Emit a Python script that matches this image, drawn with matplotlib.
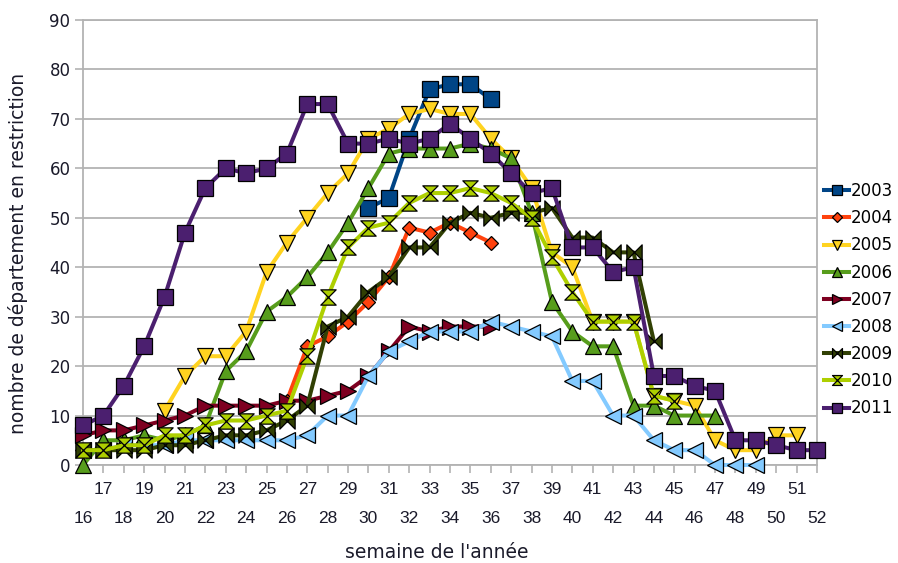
import matplotlib
matplotlib.use('Agg')
import matplotlib.pyplot as plt
from matplotlib.path import Path
import numpy as np

plt.rcParams['font.family'] = ['DejaVu Sans']

# semaines 16 a 52, chaque annee commence a sa premiere semaine
start_2003 = 30
vals_2003 = [52, 54, 66, 76, 77, 77, 74]
start_2004 = 26
vals_2004 = [13, 24, 26, 29, 33, 38, 48, 47, 49, 47, 45]
start_2005 = 20
vals_2005 = [11, 18, 22, 22, 27, 39, 45, 50, 55, 59, 66, 68, 71, 72, 71, 71,
             66, 62, 56, 43, 40, 29, 29, 29, 14, 13, 12, 5, 3, 3, 6, 6]
start_2006 = 16
vals_2006 = [0, 5, 5, 6, 5, 6, 8, 19, 23, 31, 34, 38, 43, 49, 56, 63, 64, 64,
             64, 65, 64, 62, 51, 33, 27, 24, 24, 12, 12, 10, 10, 10]
start_2007 = 16
vals_2007 = [6, 7, 7, 8, 9, 10, 12, 12, 12, 12, 13, 13, 14, 15, 18, 23, 28,
             27, 28, 28, 28]
start_2008 = 16
vals_2008 = [3, 3, 4, 4, 4, 5, 5, 5, 5, 5, 5, 6, 10, 10, 18, 23, 25, 27, 27,
             27, 29, 28, 27, 26, 17, 17, 10, 10, 5, 3, 3, 0, 0, 0]
start_2009 = 16
vals_2009 = [3, 3, 3, 3, 4, 4, 5, 6, 6, 7, 9, 12, 28, 30, 35, 38, 44, 44, 49,
             51, 50, 51, 51, 52, 46, 46, 43, 43, 25]
start_2010 = 16
vals_2010 = [3, 3, 4, 4, 6, 6, 8, 9, 9, 10, 11, 22, 34, 44, 48, 49, 53, 55,
             55, 56, 55, 53, 50, 42, 35, 29, 29, 29, 14, 13]
start_2011 = 16
vals_2011 = [8, 10, 16, 24, 34, 47, 56, 60, 59, 60, 63, 73, 73, 65, 65, 66,
             65, 66, 69, 66, 63, 59, 55, 56, 44, 44, 39, 40, 18, 18, 16, 15,
             5, 5, 4, 3, 3]

bowtie = Path([(-1, -1), (1, 1), (1, -1), (-1, 1), (-1, -1)],
              [Path.MOVETO, Path.LINETO, Path.LINETO, Path.LINETO, Path.CLOSEPOLY])
hourglass = Path([(-1, 1), (1, 1), (-1, -1), (1, -1), (-1, 1)],
                 [Path.MOVETO, Path.LINETO, Path.LINETO, Path.LINETO, Path.CLOSEPOLY])

series = [
    ('2003', start_2003, vals_2003, '#004586', 's', 12),
    ('2004', start_2004, vals_2004, '#ff420e', 'D', 7.5),
    ('2005', start_2005, vals_2005, '#ffd320', 'v', 12),
    ('2006', start_2006, vals_2006, '#579d1c', '^', 12),
    ('2007', start_2007, vals_2007, '#7e0021', '>', 12),
    ('2008', start_2008, vals_2008, '#83caff', '<', 12),
    ('2009', start_2009, vals_2009, '#314004', bowtie, 11),
    ('2010', start_2010, vals_2010, '#aecf00', hourglass, 11),
    ('2011', start_2011, vals_2011, '#4b1f6f', 's', 12),
]

txt = '#1a1a2a'

fig = plt.figure(figsize=(8.98, 5.63), dpi=100)
ax = fig.add_axes([83 / 898, 1 - 465 / 563, (817 - 83) / 898, (465 - 20) / 563])

for name, start, vals, col, mk, ms in series:
    w = np.arange(start, start + len(vals))
    ax.plot(w, vals, color=col, lw=2.9, marker=mk, ms=ms, mfc=col,
            mec='black', mew=0.9, label=name, clip_on=False, zorder=3)

ax.set_xlim(16, 52)
ax.set_ylim(0, 90)

weeks = np.arange(16, 53)
ax.set_xticks(weeks)
ax.set_xticklabels([str(w) if w % 2 else '\n' + str(w) for w in weeks])
for lab in ax.get_xticklabels():
    lab.set_linespacing(2.2)
    lab.set_fontfamily(['Liberation Sans'])
    lab.set_fontsize(12.5)
ax.set_yticks(np.arange(0, 91, 10))
for lab in ax.get_yticklabels():
    lab.set_fontsize(12)

ax.tick_params(axis='both', colors='#b3b3b3', labelcolor=txt,
               length=6, width=1.2)
ax.tick_params(axis='x', pad=6)
ax.tick_params(axis='y', pad=3)

ax.grid(axis='y', color='#b3b3b3', lw=1.3)
ax.set_axisbelow(True)
for sp in ax.spines.values():
    sp.set_color('#b3b3b3')
    sp.set_linewidth(1.3)

ax.set_xlabel("semaine de l'année", fontsize=13.5, color=txt, va='center')
ax.xaxis.set_label_coords((437 - 83) / 734, (465 - 553) / 445)
ax.set_ylabel('nombre de département en restriction', fontsize=13.5,
              color=txt, va='center')
ax.yaxis.set_label_coords((18 - 83) / 734, (465 - 253) / 445)

fig.legend(loc='upper left', bbox_to_anchor=(824 / 898, 1 - 182 / 563),
           frameon=False, fontsize=12, markerscale=0.65, handlelength=1.5,
           handletextpad=0.1, labelspacing=0.55, borderpad=0, borderaxespad=0)

fig.savefig('out.png', dpi=100)
